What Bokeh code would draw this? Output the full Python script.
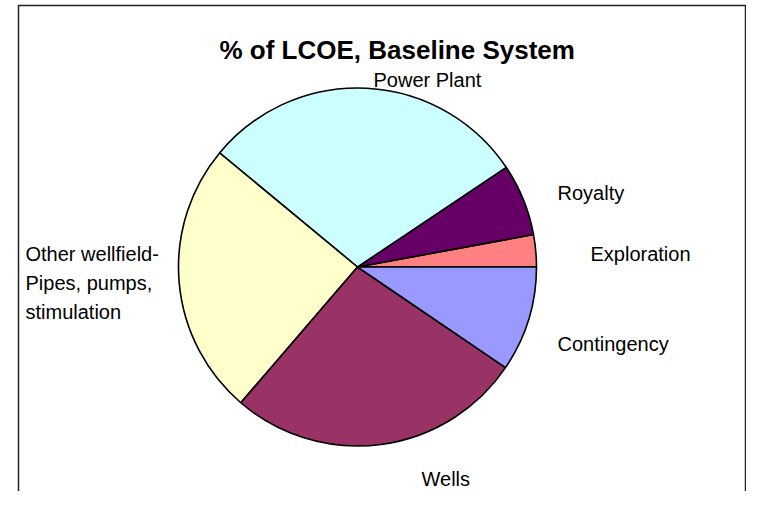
import math
from bokeh.plotting import figure
from bokeh.models import Range1d, ColumnDataSource
from bokeh.core.properties import value
from bokeh.embed import file_html
from bokeh.resources import INLINE

# ---- data ----
title = "% of LCOE, Baseline System"
categories = ["Exploration", "Royalty", "Power Plant",
              "Other wellfield-\nPipes, pumps,\nstimulation", "Wells", "Contingency"]
shares = [2.9, 6.5, 29.6, 24.7, 26.8, 9.5]
colors = ["#FF8080", "#660066", "#CCFFFF", "#FFFFCC", "#993366", "#9999FF"]

# ---- layout (picture pixels) ----
W, H = 746, 491
CX, CY, R = 357, 266.5, 179
label_left = [590, 557, 373, 25, 421, 557]
label_base = [253, 192, 79, 253, 478, 343]
LINE_STEP = 29
FONT = value("Liberation Sans")

p = figure(width=W, height=H, output_backend="svg", toolbar_location=None,
           x_range=Range1d(0, W), y_range=Range1d(-H, 0),
           min_border=0, outline_line_color=None, background_fill_color="white")
p.axis.visible = False
p.grid.visible = False

total = sum(shares)
starts, ends = [], []
acc = 0.0
for s in shares:
    starts.append(2 * math.pi * acc / total)
    acc += s
    ends.append(2 * math.pi * acc / total)

src = ColumnDataSource(dict(start=starts, end=ends, color=colors, cat=categories))
p.wedge(x=CX, y=-CY, radius=R, start_angle="start", end_angle="end",
        fill_color="color", line_color="black", line_width=1.6, source=src)

# frame (left, top, right sides; bottom is off-page in the reference)
p.line(x=[18, 18, W - 1, W - 1], y=[-(H + 5), -5, -5, -(H + 5)],
       line_color="#222222", line_width=1.5)

# labels
lx, ly, lt = [], [], []
for cat, x0, y0 in zip(categories, label_left, label_base):
    for i, line in enumerate(cat.split("\n")):
        lx.append(x0)
        ly.append(-(y0 + i * LINE_STEP))
        lt.append(line)
p.text(x=lx, y=ly, text=lt, text_font=FONT, text_font_size="20px",
       text_color="black", text_align="left", text_baseline="alphabetic")

# title
p.text(x=[396.7], y=[-49.3], text=[title], text_font=FONT, text_font_size="26px",
       text_font_style="bold", text_color="black", text_align="center",
       text_baseline="alphabetic")

open("out.html", "w").write(file_html(p, INLINE))
